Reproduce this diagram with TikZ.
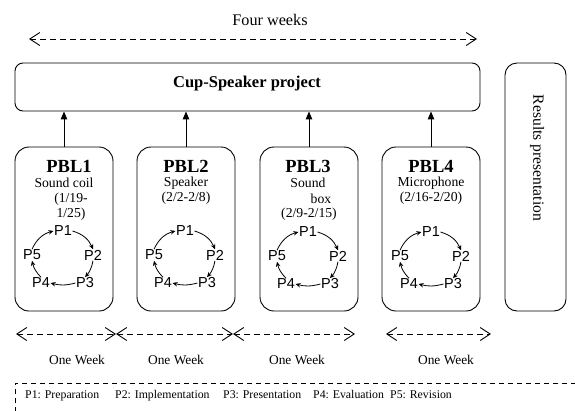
\documentclass[tikz,border=0pt]{standalone}
\usepackage{fontspec}
\setmainfont{Liberation Serif}
\newfontfamily\arialfont{Liberation Sans}
\usetikzlibrary{arrows.meta}
\tikzset{
  frame/.style={draw, line width=0.9pt, inner sep=0pt},
  pblbox/.style={frame, rounded corners=14pt, minimum width=98pt, minimum height=164pt},
  txt/.style={inner sep=0pt, font=\fontsize{13.7}{15}\selectfont},
  ttl/.style={inner sep=0pt, font=\fontsize{18.5}{20}\selectfont\bfseries},
  plab/.style={inner sep=0.5pt, font=\fontsize{14.5}{16}\selectfont\arialfont},
  carr/.style={line width=0.8pt, -{Stealth[length=5pt,width=4.5pt]}},
  uparr/.style={line width=1pt, -{Triangle[length=8pt,width=6.5pt]}},
  dasharr/.style={line width=0.8pt, dash pattern=on 6pt off 4pt,
     {Straight Barb[length=10pt,width=13pt,line width=0.9pt]}-{Straight Barb[length=10pt,width=13pt,line width=0.9pt]}},
  leg/.style={inner sep=0pt, anchor=base west, font=\fontsize{11.8}{13}\selectfont},
}
\newcommand\pcycle[3]{%
  \node[plab] (#3a) at (#1,{#2-27}) {P1};
  \node[plab] (#3b) at ({#1+30},{#2-3}) {P2};
  \node[plab] (#3c) at ({#1+22},{#2+25}) {P3};
  \node[plab] (#3d) at ({#1-22},{#2+25}) {P4};
  \node[plab] (#3e) at ({#1-31},{#2-3}) {P5};
  \draw[carr] (#3a.east) to[bend left=25] (#3b.north);
  \draw[carr] (#3b.south) to[bend left=15] (#3c.north);
  \draw[carr] (#3c.west) to[bend left=15] (#3d.east);
  \draw[carr] (#3d.north) to[bend left=15] (#3e.south);
  \draw[carr] (#3e.north) to[bend left=25] (#3a.west);
}
\begin{document}
\begin{tikzpicture}[x=1pt,y=-1pt]
\useasboundingbox (0,0) rectangle (575,410);
\clip (0,0) rectangle (575,410);

% four weeks
\node[inner sep=0pt, font=\fontsize{16.2}{18}\selectfont] (fw) at (270,20) {Four weeks};
\coordinate (fwl) at (29,39);
\coordinate (fwr) at (477,39);
\draw[dasharr] (fwl) -- (fwr);

% top project box
\node[frame, rounded corners=8pt, minimum width=465pt, minimum height=48pt] (top) at (247.5,87) {};
\node[inner sep=0pt, font=\fontsize{16.5}{18}\selectfont\bfseries] (toplab) at (247,84) {Cup-Speaker project};

% results box
\node[frame, rounded corners=12pt, minimum width=61pt, minimum height=248pt] (res) at (535.5,187) {};
\node[inner sep=0pt, rotate=-90, font=\fontsize{15.6}{18}\selectfont] (reslab) at (537,158) {Results presentation};

% PBL boxes
\node[pblbox] (b1) at (64,229) {};
\node[pblbox] (b2) at (186,229) {};
\node[pblbox] (b3) at (309,229) {};
\node[pblbox] (b4) at (431,229) {};

\draw[uparr] (b1.north) -- (b1.north |- top.south);
\draw[uparr] (b2.north) -- (b2.north |- top.south);
\draw[uparr] (b3.north) -- (b3.north |- top.south);
\draw[uparr] (b4.north) -- (b4.north |- top.south);

% PBL texts
\node[ttl] (t1) at (69,166) {PBL1};
\node[txt] (t1a) at (64,183) {Sound coil};
\node[txt] (t1b) at (71,199) {(1/19-};
\node[txt] (t1c) at (71,214) {1/25)};

\node[ttl] (t2) at (186,166) {PBL2};
\node[txt] (t2a) at (186,183) {Speaker};
\node[txt] (t2b) at (186,198) {(2/2-2/8)};

\node[ttl] (t3) at (308,166) {PBL3};
\node[txt] (t3a) at (308,183) {Sound};
\node[txt] (t3b) at (321,199) {box};
\node[txt] (t3c) at (309,214) {(2/9-2/15)};

\node[ttl] (t4) at (431,166) {PBL4};
\node[txt] (t4a) at (431,183) {Microphone};
\node[txt] (t4b) at (431,198) {(2/16-2/20)};

% cycles
\pcycle{63}{258}{ca}
\pcycle{185}{258}{cb}
\pcycle{308}{259}{cc}
\pcycle{431}{259}{cd}

% week arrows
\coordinate (w0) at (16,334);
\coordinate (w1) at (116,334);
\coordinate (w2) at (233,334);
\coordinate (w3) at (355,334);
\coordinate (w4) at (386,334);
\coordinate (w5) at (491,334);
\draw[dasharr] (w0) -- (w1);
\draw[dasharr] (w1) -- (w2);
\draw[dasharr] (w2) -- (w3);
\draw[dasharr] (w4) -- (w5);
\node[txt, font=\fontsize{13.4}{15}\selectfont] (ow1) at (77,360) {One Week};
\node[txt, font=\fontsize{13.4}{15}\selectfont] (ow2) at (176,360) {One Week};
\node[txt, font=\fontsize{13.4}{15}\selectfont] (ow3) at (297,360) {One Week};
\node[txt, font=\fontsize{13.4}{15}\selectfont] (ow4) at (446,360) {One Week};

% legend
\draw[line width=0.7pt, dash pattern=on 5pt off 4pt] (15,430) -- (15,383) -- (600,383);
\node[leg] (l1) at (25,398) {P1: Preparation};
\node[leg] (l2) at (115,398) {P2: Implementation};
\node[leg] (l3) at (223,398) {P3: Presentation};
\node[leg] (l4) at (313,398) {P4: Evaluation};
\node[leg] (l5) at (390,398) {P5: Revision};
\end{tikzpicture}
\end{document}
